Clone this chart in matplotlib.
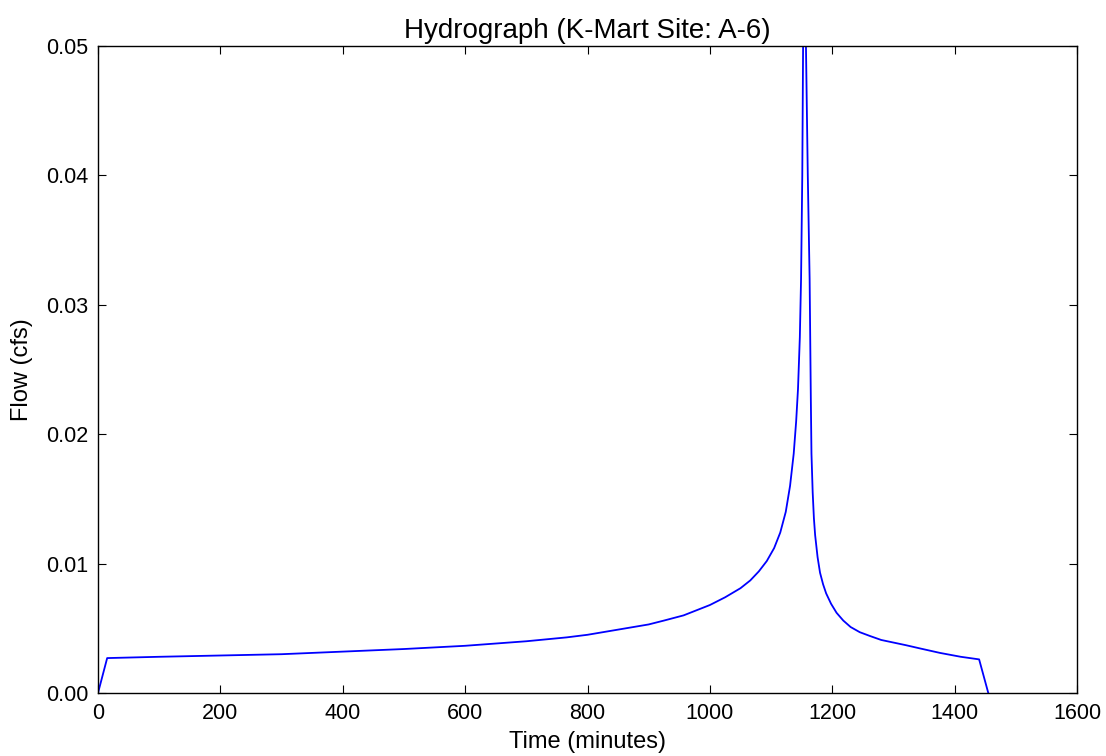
import matplotlib
matplotlib.use("Agg")
import matplotlib.pyplot as plt

# ===== DATA =====
time_min = [0, 15, 100, 200, 300, 400, 500, 600, 700, 766, 800, 850, 875,
            900, 925, 957, 1000, 1025, 1050, 1066, 1080, 1093, 1105, 1115,
            1124, 1131, 1137, 1141, 1144, 1147, 1149, 1151, 1153, 1154, 1157,
            1160, 1163, 1165, 1166, 1168, 1170, 1172, 1176, 1180, 1185, 1190,
            1198, 1207, 1218, 1230, 1245, 1262, 1280, 1300, 1320, 1343, 1376,
            1410, 1440, 1455]
flow_cfs = [0.0, 0.0027, 0.0028, 0.0029, 0.0030, 0.0032, 0.00340, 0.00365,
            0.0040, 0.0043, 0.0045, 0.0049, 0.0051, 0.0053, 0.0056, 0.0060,
            0.0068, 0.0074, 0.0081, 0.0087, 0.0094, 0.0102, 0.0112, 0.0124,
            0.0140, 0.0160, 0.0185, 0.0210, 0.0235, 0.0275, 0.0320, 0.0400,
            0.0550, 0.0750, 0.0500, 0.0400, 0.0320, 0.0226, 0.0185, 0.0155,
            0.0135, 0.0122, 0.0105, 0.0093, 0.0084, 0.0077, 0.0069, 0.0062,
            0.0056, 0.0051, 0.0047, 0.0044, 0.0041, 0.0039, 0.0037, 0.00345,
            0.0031, 0.0028, 0.0026, 0.0]

site_name = "K-Mart Site: A-6"

# ===== PLOT =====
plt.rcParams['font.family'] = ['Liberation Sans', 'DejaVu Sans']

fig = plt.figure(figsize=(11.06, 7.56), dpi=100)
ax = fig.add_axes([0.0886, 0.0833, 0.8852, 0.8559])

ax.plot(time_min, flow_cfs, color="blue", linewidth=1.3)

ax.set_xlim(0, 1600)
ax.set_ylim(0, 0.05)
ax.set_xticks(range(0, 1601, 200))
ax.set_yticks([0.0, 0.01, 0.02, 0.03, 0.04, 0.05])
ax.set_yticklabels(["0.00", "0.01", "0.02", "0.03", "0.04", "0.05"])

ax.tick_params(direction='in', top=True, right=True, length=6, width=0.8,
               labelsize=15.5, pad=7)
for spine in ax.spines.values():
    spine.set_linewidth(1.0)

ax.set_xlabel("Time (minutes)", fontsize=17, labelpad=5)
ax.set_ylabel("Flow (cfs)", fontsize=17, labelpad=9)
ax.set_title(f"Hydrograph ({site_name})", fontsize=20, pad=6)

fig.savefig("out.png", dpi=100, facecolor="white")
